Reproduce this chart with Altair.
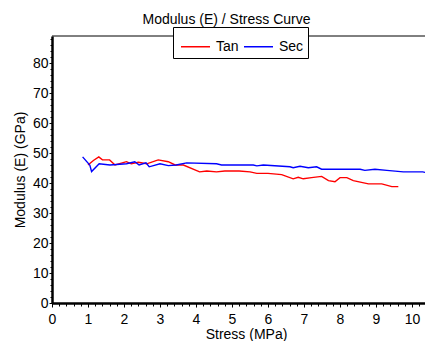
import altair as alt
import pandas as pd

tan_x = [1.0, 1.15, 1.3, 1.4, 1.6, 1.75, 2.07, 2.2, 2.4, 2.63, 2.95, 3.23, 3.42, 3.65, 4.1, 4.3, 4.57, 4.8, 5.2, 5.5, 5.69, 6.0, 6.38, 6.7, 6.84, 6.98, 7.21, 7.49, 7.68, 7.86, 8.0, 8.19, 8.37, 8.79, 9.16, 9.44, 9.62]
tan_y = [46.0, 47.5, 48.7, 47.7, 47.7, 46.0, 47.1, 46.4, 46.9, 46.4, 47.7, 47.1, 46.0, 46.0, 43.7, 44.0, 43.7, 44.0, 44.0, 43.7, 43.2, 43.2, 42.8, 41.4, 41.9, 41.4, 41.8, 42.2, 40.8, 40.4, 41.8, 41.8, 40.8, 39.7, 39.7, 38.8, 38.8]

sec_x = [0.85, 1.05, 1.1, 1.31, 1.61, 2.07, 2.3, 2.42, 2.61, 2.7, 3.0, 3.23, 3.45, 3.74, 4.57, 4.71, 5.59, 5.69, 5.87, 6.61, 6.7, 6.89, 7.12, 7.35, 7.49, 8.56, 8.69, 8.97, 9.3, 9.76, 10.3, 10.55]
sec_y = [48.7, 46.0, 43.8, 46.4, 46.0, 46.4, 47.1, 46.0, 46.7, 45.4, 46.4, 45.8, 46.0, 46.7, 46.4, 46.0, 46.0, 45.7, 46.0, 45.4, 45.1, 45.6, 45.1, 45.4, 44.6, 44.6, 44.2, 44.6, 44.2, 43.7, 43.7, 43.1]

series_names = ["Tan", "Sec"]
series_colors = ["#ff0000", "#0000ff"]

x_major = list(range(0, 11))
x_minor = [round(i * 0.2, 1) for i in range(0, 53)]
y_major = list(range(0, 90, 10))
y_minor = list(range(0, 90, 2))

W = 373
H = 267
X_MAX = W / 36
Y_MAX = H / 3

rows = []
for i, (a, b) in enumerate(zip(tan_x, tan_y)):
    rows.append({"x": a, "y": b, "series": "Tan", "i": i})
for i, (a, b) in enumerate(zip(sec_x, sec_y)):
    rows.append({"x": a, "y": b, "series": "Sec", "i": i})
df = pd.DataFrame(rows)

FONT = "Liberation Sans"
xscale = alt.Scale(domain=[0, X_MAX], nice=False, zero=False)
yscale = alt.Scale(domain=[0, Y_MAX], nice=False, zero=False)

lines = alt.Chart(df).mark_line(strokeWidth=1.4, clip=True).encode(
    x=alt.X("x:Q", scale=xscale, title="Stress (MPa)",
            axis=alt.Axis(values=x_major, format="d", orient="bottom", tickSize=4, labelPadding=5,
                          labelFlush=False, domainWidth=2.5, titleY=35, titleX=194,
                          titleAlign="center", titleBaseline="alphabetic")),
    y=alt.Y("y:Q", scale=yscale, title="Modulus (E) (GPa)",
            axis=alt.Axis(values=y_major, format="d", orient="left", tickSize=3, labelPadding=1,
                          domainWidth=2.5, titlePadding=5)),
    color=alt.Color("series:N", scale=alt.Scale(domain=series_names, range=series_colors),
                    legend=alt.Legend(title=None, orient="none", legendX=121, legendY=-9,
                                      direction="horizontal", symbolType="stroke",
                                      symbolSize=841, symbolStrokeWidth=1.5,
                                      strokeColor="black", padding=4, fillColor="white",
                                      symbolOffset=3,
                                      labelExpr="datum.label == 'Sec' ? 'Sec\u2003\u2002' : datum.label",
                                      labelFontSize=14, labelFont=FONT, labelColor="black",
                                      columnPadding=1, labelOffset=5)),
    order="i:Q",
)

minor_df = pd.DataFrame({"x": [0.0], "y": [0.0]})
minor = alt.Chart(minor_df).mark_point(opacity=0).encode(
    x=alt.X("x:Q", scale=xscale, title=None,
            axis=alt.Axis(values=x_minor, orient="bottom", labels=False, domain=False, tickSize=3)),
    y=alt.Y("y:Q", scale=yscale, title=None,
            axis=alt.Axis(values=y_minor, orient="left", labels=False, domain=False, tickSize=2)),
)

top_border = alt.Chart(minor_df).mark_rule(color="black", strokeWidth=1).encode(
    x=alt.value(0), x2=alt.value(W), y=alt.value(0)
)

chart = alt.layer(lines, minor, top_border).resolve_axis(x="independent", y="independent").properties(
    width=W, height=H,
    autosize=alt.AutoSizeParams(type="none"),
    padding={"left": 44, "top": 28, "right": 0, "bottom": 38},
    title=alt.Title("Modulus (E) / Stress Curve", fontSize=14, font=FONT, fontWeight="normal",
                    color="black", offset=10, dx=-12, dy=10),
).configure_view(strokeWidth=0).configure_axis(
    labelFont=FONT, titleFont=FONT, labelFontSize=14, titleFontSize=14, titleFontWeight="normal",
    labelColor="black", titleColor="black", domainColor="black", tickColor="black", grid=False,
)

chart.save("out.html", embed_options={"renderer": "svg", "actions": False})
